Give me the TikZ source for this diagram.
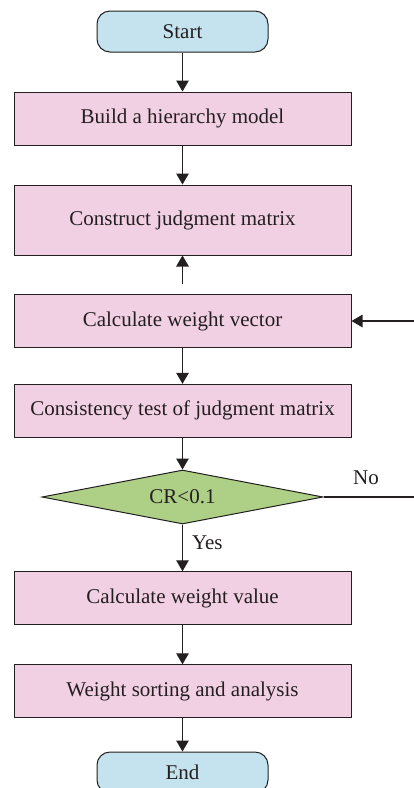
\documentclass[tikz,border=0pt]{standalone}
\usepackage{fontspec}
\setmainfont{Liberation Serif}
\usetikzlibrary{shapes.geometric,arrows.meta}
\definecolor{boxpink}{RGB}{242,208,228}
\definecolor{termblue}{RGB}{197,227,238}
\definecolor{decgreen}{RGB}{174,208,134}
\definecolor{inkc}{RGB}{35,31,32}
\tikzset{
  base/.style={draw=inkc, line width=1pt, text=inkc, font=\fontsize{21}{24}\selectfont, inner sep=0pt},
  procbox/.style={base, rectangle, fill=boxpink, minimum width=337pt},
  termbox/.style={base, rectangle, rounded corners=13pt, fill=termblue, minimum width=171pt, minimum height=41pt},
  decbox/.style={base, diamond, aspect=5.2, fill=decgreen, minimum width=281pt, minimum height=54pt},
  flow/.style={draw=inkc, line width=1.2pt, -{Triangle[width=12.5pt,length=11pt]}},
  plain/.style={draw=inkc, line width=1.2pt},
  lbl/.style={text=inkc, font=\fontsize{21}{24}\selectfont, inner sep=0pt}
}
\begin{document}
\begin{tikzpicture}[x=1pt,y=-1pt]
\useasboundingbox (0,0) rectangle (414,788);
\clip (0,0) rectangle (414,788);
\node[termbox] (start) at (182.5,31.5) {Start};
\node[procbox, minimum height=53pt] (build) at (182.5,118.5) {Build a hierarchy model};
\node[procbox, minimum height=70pt] (construct) at (182.5,220) {Construct judgment matrix};
\node[procbox, minimum height=53.5pt] (vector) at (182.5,321) {Calculate weight vector};
\node[procbox, minimum height=53pt] (consist) at (182.5,410.8) {Consistency test of judgment matrix};
\node[decbox] (cr) at (182.5,497) {CR<0.1};
\node[procbox, minimum height=52.5pt] (value) at (182.5,598) {Calculate weight value};
\node[procbox, minimum height=53pt] (sort) at (182.5,691.3) {Weight sorting and analysis};
\node[termbox] (end) at (182.5,772.5) {End};
\coordinate (upstart) at (182.5,284);
\coordinate (fbin) at (414,321);
\coordinate (fbout) at (414,497);
\draw[flow] (start) -- (build);
\draw[flow] (build) -- (construct);
\draw[flow] (upstart) -- (construct);
\draw[flow] (vector) -- (consist);
\draw[flow] (consist) -- (cr.north);
\draw[flow] (cr.south) -- node[lbl, right=9pt, pos=0.4] (yes) {Yes} (value);
\draw[flow] (value) -- (sort);
\draw[flow] (sort) -- (end);
\draw[flow] (fbin) -- (vector.east);
\draw[plain] (cr.east) -- node[lbl, above=12pt, pos=0.47] (no) {No} (fbout);
\end{tikzpicture}
\end{document}
